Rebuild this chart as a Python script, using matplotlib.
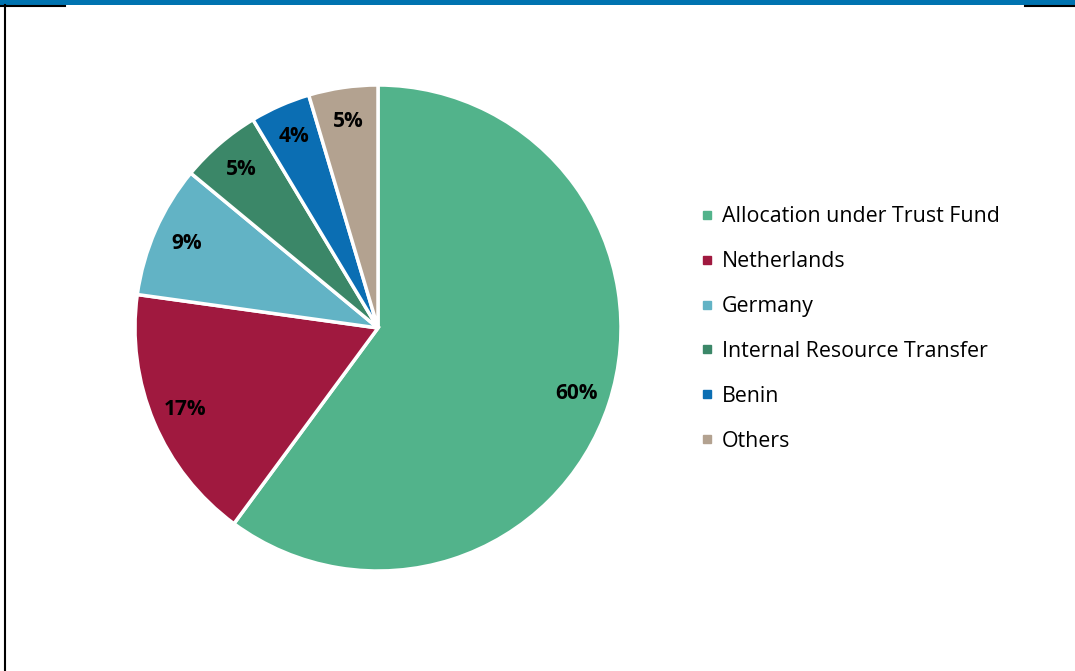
import matplotlib.pyplot as plt
from matplotlib.lines import Line2D
from matplotlib.patches import Rectangle

plt.rcParams['font.family'] = ['Open Sans', 'DejaVu Sans']

categories = ["Allocation under Trust Fund", "Netherlands", "Germany",
              "Internal Resource Transfer", "Benin", "Others"]
shares = [60.1, 17.1, 8.8, 5.4, 4.0, 4.6]
colors = ["#52B38B", "#A0193F", "#62B3C5", "#3B8768", "#0B6EB3", "#B3A290"]

W, H = 1075, 671
fig = plt.figure(figsize=(W / 100, H / 100), dpi=100)

# pie centred at (378, 328) px, radius ~243 px
cx, cy, r = 378, 328, 243
ax = fig.add_axes([(cx - r) / W, (H - cy - r) / H, 2 * r / W, 2 * r / H])
wedges, texts, autotexts = ax.pie(
    shares, colors=colors, startangle=90, counterclock=False,
    autopct="%.0f%%", pctdistance=0.86,
    wedgeprops=dict(edgecolor="white", linewidth=2.5),
    textprops=dict(fontsize=15, fontweight="bold", color="black"))
ax.set_xlim(-1, 1)
ax.set_ylim(-1, 1)
ax.set_aspect("equal")

handles = [Line2D([0], [0], marker="s", linestyle="none", markersize=6,
                  markerfacecolor=c, markeredgecolor=c) for c in colors]
fig.legend(handles, categories, loc="center left",
           bbox_to_anchor=(691 / W, (H - 329) / H), frameon=False,
           fontsize=15.4, handlelength=0.5, handletextpad=0.45,
           labelspacing=1.12, borderpad=0)

# frame: blue band at top, black rules
fig.patches.append(Rectangle((0, 1 - 5 / H), 1, 5 / H, transform=fig.transFigure,
                             facecolor="#0073B0", edgecolor="none"))
fig.add_artist(Line2D([0, 65 / W], [1 - 6 / H] * 2, color="black", lw=1.5))
fig.add_artist(Line2D([1025 / W, 1], [1 - 6 / H] * 2, color="black", lw=1.5))
fig.add_artist(Line2D([5.5 / W] * 2, [0, 1 - 5 / H], color="black", lw=1.5))

fig.savefig("out.png", dpi=100)
